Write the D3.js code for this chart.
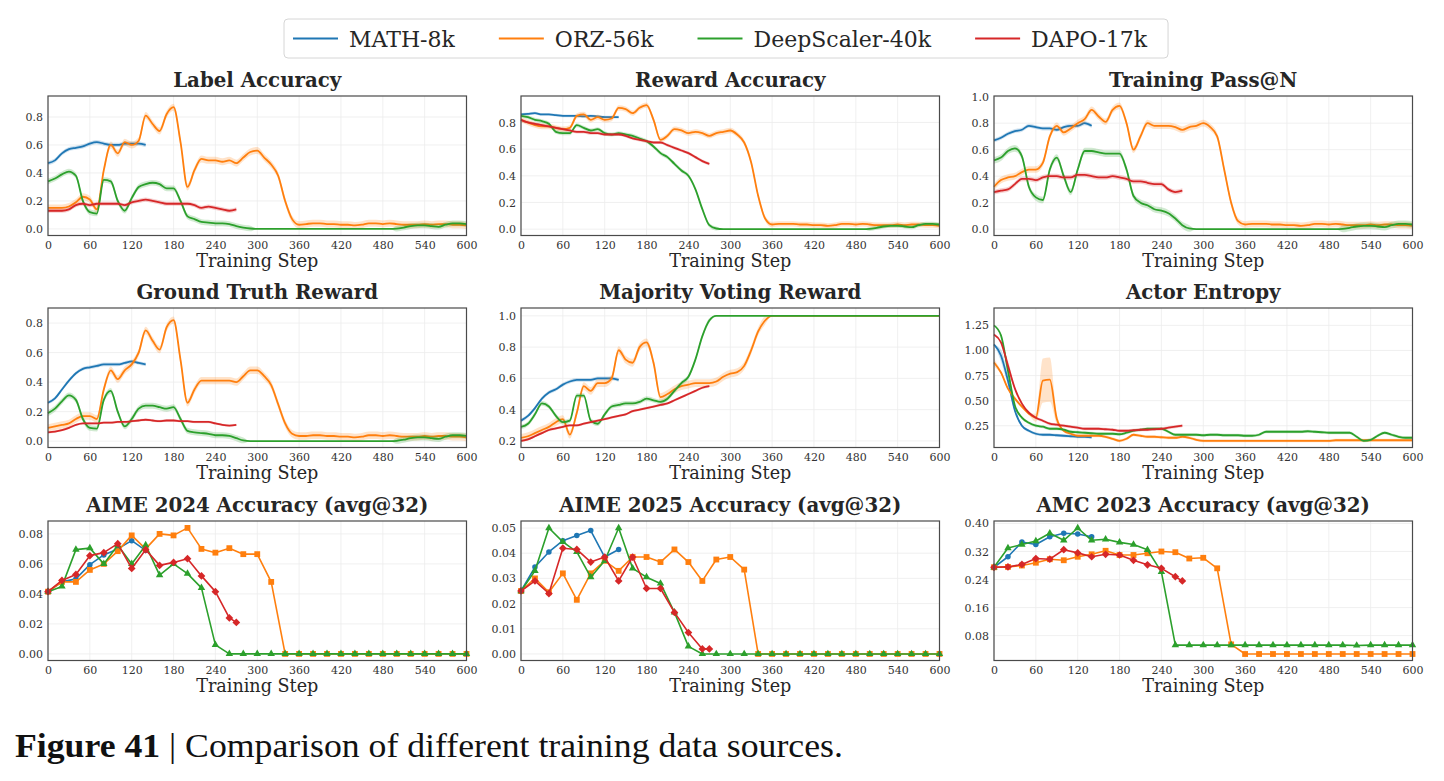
<!DOCTYPE html>
<html>
<head>
<meta charset="utf-8">
<script src="https://cdn.jsdelivr.net/npm/d3@7"></script>
<style>
  body { margin: 0; background: #fff; }
  text { font-family: "DejaVu Serif", serif; }
</style>
</head>
<body>
<div id="chart"></div>
<script>
// ---- data ----
var names = ['MATH-8k', 'ORZ-56k', 'DeepScaler-40k', 'DAPO-17k'];
var colours = ['#1f77b4', '#ff7f0e', '#2ca02c', '#d62728'];

var trainSteps = d3.range(0, 601, 10);
var evalSteps = d3.range(0, 601, 20);
var evalStepsDapo = [0, 20, 40, 60, 80, 100, 120, 140, 160, 180, 200, 220, 240, 260, 270];

// Label Accuracy
var labelAccMath = [0.47,0.49,0.54,0.57,0.58,0.59,0.61,0.62,0.61,0.60,0.60,0.61,0.61,0.61,0.60];
var labelAccOrz = [0.15,0.15,0.15,0.16,0.19,0.23,0.21,0.14,0.42,0.60,
  0.54,0.62,0.60,0.63,0.81,0.75,0.70,0.82,0.87,0.62,
  0.30,0.42,0.50,0.49,0.49,0.48,0.49,0.47,0.51,0.55,
  0.56,0.51,0.46,0.38,0.20,0.07,0.03,0.035,0.04,0.04,
  0.035,0.035,0.03,0.03,0.025,0.03,0.04,0.04,0.035,0.04,
  0.035,0.03,0.03,0.03,0.035,0.03,0.035,0.035,0.03,0.03,
  0.025];
var labelAccDeep = [0.34,0.36,0.39,0.41,0.38,0.20,0.12,0.11,0.35,0.34,
  0.20,0.13,0.22,0.30,0.32,0.33,0.32,0.29,0.29,0.20,
  0.09,0.07,0.05,0.045,0.04,0.04,0.035,0.02,0.01,0.003,
  0,0,0,0,0,0,0,0,0,0,
  0,0,0,0,0,0,0,0,0,0,
  0.002,0.01,0.02,0.025,0.025,0.02,0.015,0.03,0.04,0.04,
  0.035];
var labelAccDapo = [0.13,0.13,0.13,0.14,0.17,0.18,0.17,0.18,0.18,0.18,
  0.18,0.17,0.19,0.20,0.21,0.20,0.19,0.18,0.18,0.18,
  0.18,0.17,0.15,0.16,0.15,0.14,0.13,0.14];

// Reward Accuracy
var rewardAccMath = [0.86,0.865,0.87,0.86,0.86,0.855,0.85,0.85,0.85,0.845,0.85,0.845,0.84,0.84,0.84];
var rewardAccOrz = [0.82,0.80,0.78,0.77,0.77,0.76,0.75,0.76,0.85,0.86,
  0.82,0.84,0.82,0.83,0.91,0.90,0.87,0.91,0.93,0.82,
  0.67,0.70,0.75,0.74,0.72,0.73,0.72,0.70,0.72,0.73,
  0.74,0.71,0.65,0.50,0.25,0.08,0.035,0.04,0.04,0.04,
  0.035,0.035,0.03,0.03,0.025,0.03,0.04,0.04,0.035,0.04,
  0.035,0.03,0.03,0.03,0.035,0.03,0.035,0.035,0.03,0.03,
  0.025];
var rewardAccDeep = [0.85,0.84,0.82,0.81,0.79,0.73,0.72,0.72,0.78,0.76,
  0.74,0.75,0.72,0.71,0.72,0.71,0.70,0.68,0.66,0.62,
  0.57,0.54,0.49,0.44,0.40,0.30,0.15,0.03,0.005,0,
  0,0,0,0,0,0,0,0,0,0,
  0,0,0,0,0,0,0,0,0,0,
  0.002,0.01,0.02,0.025,0.025,0.02,0.015,0.03,0.04,0.04,
  0.035];
var rewardAccDapo = [0.82,0.80,0.79,0.78,0.77,0.76,0.75,0.74,0.73,0.73,
  0.72,0.72,0.71,0.71,0.71,0.70,0.68,0.67,0.66,0.65,
  0.65,0.63,0.61,0.59,0.57,0.54,0.51,0.49];

// Training Pass@N
var passNMath = [0.67,0.69,0.72,0.74,0.75,0.78,0.77,0.76,0.76,0.75,0.77,0.78,0.78,0.80,0.78];
var passNOrz = [0.32,0.37,0.39,0.40,0.43,0.45,0.45,0.50,0.70,0.78,
  0.73,0.76,0.80,0.83,0.90,0.85,0.81,0.90,0.93,0.80,
  0.60,0.70,0.80,0.78,0.78,0.78,0.77,0.75,0.77,0.78,
  0.80,0.77,0.70,0.45,0.20,0.06,0.035,0.04,0.04,0.04,
  0.035,0.035,0.03,0.03,0.025,0.03,0.04,0.04,0.035,0.04,
  0.035,0.03,0.03,0.03,0.035,0.03,0.035,0.035,0.03,0.03,
  0.025];
var passNDeep = [0.52,0.54,0.59,0.61,0.55,0.32,0.24,0.22,0.45,0.54,
  0.40,0.28,0.45,0.59,0.59,0.58,0.57,0.57,0.57,0.45,
  0.25,0.20,0.18,0.15,0.14,0.12,0.08,0.03,0.005,0,
  0,0,0,0,0,0,0,0,0,0,
  0,0,0,0,0,0,0,0,0,0,
  0.002,0.01,0.02,0.025,0.025,0.02,0.015,0.03,0.04,0.04,
  0.035];
var passNDapo = [0.28,0.29,0.30,0.34,0.38,0.38,0.37,0.39,0.40,0.40,
  0.39,0.39,0.41,0.41,0.40,0.39,0.39,0.40,0.39,0.38,
  0.36,0.36,0.35,0.34,0.34,0.30,0.28,0.29];

// Ground Truth Reward
var gtRewardMath = [0.26,0.29,0.35,0.41,0.46,0.49,0.50,0.51,0.52,0.52,0.52,0.53,0.54,0.53,0.52];
var gtRewardOrz = [0.09,0.10,0.11,0.12,0.15,0.17,0.17,0.15,0.35,0.48,
  0.42,0.48,0.52,0.60,0.75,0.68,0.62,0.77,0.82,0.55,
  0.26,0.35,0.41,0.41,0.41,0.41,0.41,0.40,0.44,0.48,
  0.48,0.44,0.38,0.25,0.12,0.05,0.035,0.035,0.04,0.04,
  0.035,0.035,0.03,0.03,0.025,0.03,0.04,0.04,0.035,0.04,
  0.035,0.03,0.03,0.03,0.035,0.03,0.035,0.035,0.03,0.03,
  0.025];
var gtRewardDeep = [0.19,0.22,0.27,0.31,0.28,0.15,0.09,0.085,0.28,0.34,
  0.20,0.10,0.15,0.22,0.24,0.24,0.23,0.22,0.23,0.15,
  0.07,0.06,0.055,0.05,0.04,0.04,0.035,0.02,0.005,0,
  0,0,0,0,0,0,0,0,0,0,
  0,0,0,0,0,0,0,0,0,0,
  0.002,0.01,0.02,0.025,0.025,0.02,0.015,0.03,0.04,0.04,
  0.035];
var gtRewardDapo = [0.06,0.065,0.075,0.09,0.11,0.12,0.12,0.12,0.125,0.125,
  0.13,0.13,0.135,0.14,0.145,0.14,0.135,0.14,0.14,0.135,
  0.135,0.13,0.13,0.13,0.12,0.11,0.105,0.11];

// Majority Voting Reward
var mvRewardMath = [0.33,0.36,0.41,0.47,0.51,0.53,0.56,0.58,0.59,0.59,0.59,0.60,0.60,0.60,0.59];
var mvRewardOrz = [0.22,0.23,0.25,0.27,0.29,0.32,0.34,0.24,0.38,0.55,
  0.52,0.57,0.57,0.60,0.78,0.72,0.70,0.80,0.83,0.70,
  0.48,0.50,0.53,0.55,0.56,0.57,0.57,0.57,0.58,0.61,
  0.63,0.64,0.68,0.78,0.90,0.97,1,1,1,1,
  1,1,1,1,1,1,1,1,1,1,
  1,1,1,1,1,1,1,1,1,1,
  1];
var mvRewardDeep = [0.29,0.31,0.37,0.44,0.42,0.36,0.32,0.33,0.49,0.49,
  0.33,0.31,0.37,0.42,0.43,0.44,0.44,0.45,0.47,0.46,
  0.45,0.47,0.52,0.57,0.61,0.72,0.87,0.97,1,1,
  1,1,1,1,1,1,1,1,1,1,
  1,1,1,1,1,1,1,1,1,1,
  1,1,1,1,1,1,1,1,1,1,
  1];
var mvRewardDapo = [0.20,0.21,0.23,0.25,0.27,0.28,0.29,0.30,0.30,0.31,
  0.32,0.33,0.34,0.35,0.36,0.37,0.39,0.40,0.41,0.42,
  0.43,0.44,0.46,0.48,0.50,0.52,0.54,0.55];

// Actor Entropy
var entropyMath = [1.06,0.95,0.70,0.40,0.25,0.20,0.17,0.16,0.16,0.155,0.15,0.145,0.14,0.14,0.135];
var entropyOrz = [0.88,0.78,0.62,0.52,0.44,0.37,0.33,0.70,0.71,0.32,
  0.20,0.17,0.15,0.15,0.15,0.15,0.14,0.12,0.10,0.12,
  0.16,0.15,0.14,0.14,0.135,0.13,0.13,0.14,0.13,0.11,
  0.10,0.10,0.10,0.10,0.10,0.10,0.10,0.10,0.10,0.10,
  0.10,0.10,0.10,0.10,0.10,0.10,0.10,0.10,0.10,0.105,
  0.105,0.105,0.105,0.105,0.105,0.105,0.105,0.105,0.105,0.105,
  0.105];
var entropyDeep = [1.25,1.15,0.80,0.45,0.33,0.28,0.25,0.24,0.22,0.22,
  0.21,0.19,0.185,0.18,0.175,0.17,0.17,0.17,0.165,0.18,
  0.20,0.21,0.22,0.22,0.22,0.19,0.16,0.16,0.16,0.16,
  0.155,0.16,0.16,0.155,0.155,0.155,0.15,0.15,0.16,0.19,
  0.19,0.19,0.19,0.19,0.19,0.195,0.19,0.185,0.18,0.18,
  0.18,0.18,0.14,0.10,0.11,0.15,0.18,0.16,0.14,0.13,
  0.13];
var entropyDapo = [1.16,1.08,0.85,0.62,0.47,0.38,0.33,0.30,0.27,0.26,
  0.25,0.24,0.23,0.22,0.22,0.22,0.215,0.21,0.20,0.20,
  0.205,0.21,0.21,0.215,0.22,0.23,0.24,0.25];
// wider shaded spread where the runs disagree (step -> half width)
var entropySpread = [
  {0: 0.06, 10: 0.06, 20: 0.05},
  {0: 0.04, 60: 0.04, 70: 0.22, 80: 0.22, 90: 0.05},
  {0: 0.10, 10: 0.09, 20: 0.06},
  {0: 0.04, 10: 0.05, 20: 0.05}
];

// AIME 2024 (avg@32)
var aime24Math = [0.0415,0.048,0.05,0.0595,0.066,0.07,0.0755,0.069];
var aime24Orz = [0.0415,0.048,0.048,0.056,0.06,0.0685,0.079,0.07,0.08,0.079,0.084,0.07,0.0675,0.0705,0.0665,0.0665,0.048,
  0,0,0,0,0,0,0,0,0,0,0,0,0,0];
var aime24Deep = [0.0415,0.045,0.0695,0.0705,0.06,0.0725,0.06,0.0725,0.0525,0.06,0.0535,0.044,0.006,
  0,0,0,0,0,0,0,0,0,0,0,0,0,0,0,0,0,0];
var aime24Dapo = [0.0415,0.049,0.053,0.0655,0.0675,0.0735,0.057,0.0695,0.059,0.061,0.0635,0.052,0.0415,0.024,0.021];

// AIME 2025 (avg@32)
var aime25Math = [0.025,0.0345,0.0405,0.045,0.047,0.049,0.0385,0.0415];
var aime25Orz = [0.025,0.03,0.0245,0.032,0.0215,0.032,0.037,0.033,0.0385,0.0385,0.0365,0.0415,0.0365,0.029,0.0375,0.0385,0.0335,
  0,0,0,0,0,0,0,0,0,0,0,0,0,0];
var aime25Deep = [0.025,0.033,0.05,0.0445,0.0405,0.0305,0.037,0.05,0.034,0.0305,0.028,0.0165,0.003,
  0,0,0,0,0,0,0,0,0,0,0,0,0,0,0,0,0,0];
var aime25Dapo = [0.025,0.029,0.024,0.042,0.0415,0.0365,0.0385,0.029,0.0385,0.026,0.026,0.0165,0.0085,0.002,0.002];

// AMC 2023 (avg@32)
var amc23Math = [0.275,0.305,0.347,0.34,0.362,0.372,0.37,0.362];
var amc23Orz = [0.275,0.276,0.28,0.288,0.298,0.295,0.305,0.312,0.322,0.31,0.31,0.315,0.32,0.318,0.3,0.302,0.272,0.055,
  0.0275,0.0275,0.0275,0.0275,0.0275,0.0275,0.0275,0.0275,0.0275,0.0275,0.0275,0.0275,0.0275];
var amc23Deep = [0.275,0.33,0.34,0.35,0.372,0.352,0.387,0.352,0.355,0.346,0.34,0.325,0.262,0.053,
  0.053,0.053,0.053,0.053,0.053,0.053,0.053,0.053,0.053,0.053,0.053,0.053,0.052,0.053,0.053,0.053,0.053];
var amc23Dapo = [0.275,0.276,0.283,0.3,0.298,0.325,0.316,0.305,0.312,0.31,0.295,0.282,0.272,0.248,0.236];

// ---- layout ----
var W = 1444, H = 781,
    colLeft = [48, 521, 994],
    plotW = 418.5,
    rowTop = [96, 308, 521],
    plotH = 139.5;

var panels = [
  {title: 'Label Accuracy', s: [labelAccMath, labelAccOrz, labelAccDeep, labelAccDapo],
   y: [-0.047, 0.95], ticks: [0, 0.2, 0.4, 0.6, 0.8], fmt: '.1f', band: [0.015, 0.025, 0.02, 0.015]},
  {title: 'Reward Accuracy', s: [rewardAccMath, rewardAccOrz, rewardAccDeep, rewardAccDapo],
   y: [-0.0475, 0.9985], ticks: [0, 0.2, 0.4, 0.6, 0.8], fmt: '.1f', band: [0.01, 0.02, 0.015, 0.012]},
  {title: 'Training Pass@N', s: [passNMath, passNOrz, passNDeep, passNDapo],
   y: [-0.048, 1.005], ticks: [0, 0.2, 0.4, 0.6, 0.8, 1.0], fmt: '.1f', band: [0.015, 0.025, 0.025, 0.018]},
  {title: 'Ground Truth Reward', s: [gtRewardMath, gtRewardOrz, gtRewardDeep, gtRewardDapo],
   y: [-0.043, 0.902], ticks: [0, 0.2, 0.4, 0.6, 0.8], fmt: '.1f', band: [0.012, 0.025, 0.02, 0.008]},
  {title: 'Majority Voting Reward', s: [mvRewardMath, mvRewardOrz, mvRewardDeep, mvRewardDapo],
   y: [0.158, 1.05], ticks: [0.2, 0.4, 0.6, 0.8, 1.0], fmt: '.1f', band: [0.012, 0.025, 0.015, 0.008]},
  {title: 'Actor Entropy', s: [entropyMath, entropyOrz, entropyDeep, entropyDapo],
   y: [0.033, 1.423], ticks: [0.25, 0.5, 0.75, 1.0, 1.25], fmt: '.2f', band: [0.015, 0.015, 0.015, 0.015],
   spread: entropySpread},
  {title: 'AIME 2024 Accuracy (avg@32)', s: [aime24Math, aime24Orz, aime24Deep, aime24Dapo], eval: true,
   y: [-0.0044, 0.0886], ticks: [0, 0.02, 0.04, 0.06, 0.08], fmt: '.2f'},
  {title: 'AIME 2025 Accuracy (avg@32)', s: [aime25Math, aime25Orz, aime25Deep, aime25Dapo], eval: true,
   y: [-0.0026, 0.0528], ticks: [0, 0.01, 0.02, 0.03, 0.04, 0.05], fmt: '.2f'},
  {title: 'AMC 2023 Accuracy (avg@32)', s: [amc23Math, amc23Orz, amc23Deep, amc23Dapo], eval: true,
   y: [0.009, 0.407], ticks: [0.08, 0.16, 0.24, 0.32, 0.40], fmt: '.2f'}
];

var svg = d3.select('#chart').append('svg')
    .attr('width', W)
    .attr('height', H)
    .style('background', '#fff');

var markerShapes = [
  d3.symbol().type(d3.symbolCircle).size(24),
  d3.symbol().type(d3.symbolSquare).size(34),
  d3.symbol().type(d3.symbolTriangle).size(24),
  d3.symbol().type(d3.symbolSquare).size(30)
];

panels.forEach(function(p, k) {
  var left = colLeft[k % 3],
      top = rowTop[Math.floor(k / 3)];

  var x = d3.scaleLinear().domain([0, 600]).range([left, left + plotW]);
  var y = d3.scaleLinear().domain(p.y).range([top + plotH, top]);

  var g = svg.append('g');

  // grid
  g.selectAll('.vgrid').data(d3.range(0, 601, 60)).enter().append('line')
    .attr('x1', function(d) { return x(d); }).attr('x2', function(d) { return x(d); })
    .attr('y1', top).attr('y2', top + plotH)
    .attr('stroke', '#ececec').attr('stroke-width', 0.8);
  g.selectAll('.hgrid').data(p.ticks).enter().append('line')
    .attr('x1', left).attr('x2', left + plotW)
    .attr('y1', function(d) { return y(d); }).attr('y2', function(d) { return y(d); })
    .attr('stroke', '#ececec').attr('stroke-width', 0.8);

  // axes (labels only, matplotlib style without tick marks)
  var xAxis = g.append('g')
    .attr('transform', 'translate(0,' + (top + plotH) + ')')
    .call(d3.axisBottom(x).tickValues(d3.range(0, 601, 60)).tickSize(0).tickPadding(6));
  var yAxis = g.append('g')
    .attr('transform', 'translate(' + left + ',0)')
    .call(d3.axisLeft(y).tickValues(p.ticks).tickFormat(d3.format(p.fmt)).tickSize(0).tickPadding(5));
  [xAxis, yAxis].forEach(function(a) {
    a.select('.domain').remove();
    a.selectAll('text')
      .style('font-family', '"DejaVu Serif", serif')
      .style('font-size', '11px')
      .attr('fill', '#333');
  });

  // series
  p.s.forEach(function(vals, si) {
    var steps;
    if (p.eval) steps = (si === 3) ? evalStepsDapo : evalSteps;
    else steps = trainSteps;
    var pts = vals.map(function(v, i) { return {step: steps[i], v: v}; });
    var col = colours[si];

    if (!p.eval) {
      // no spread once a bounded metric is saturated at 0 or 1
      var hw = function(d) {
        if (d.v <= 0 || d.v >= 1) return 0;
        if (p.spread && p.spread[si][d.step] !== undefined) return p.spread[si][d.step];
        return p.band[si];
      };
      var area = d3.area()
        .x(function(d) { return x(d.step); })
        .y0(function(d) { return y(d.v - hw(d)); })
        .y1(function(d) { return y(d.v + hw(d)); })
        .curve(d3.curveMonotoneX);
      g.append('path').datum(pts)
        .attr('d', area)
        .attr('fill', col)
        .attr('fill-opacity', 0.22);
    }

    var line = d3.line()
      .x(function(d) { return x(d.step); })
      .y(function(d) { return y(d.v); })
      .curve(p.eval ? d3.curveLinear : d3.curveMonotoneX);
    g.append('path').datum(pts)
      .attr('d', line)
      .attr('fill', 'none')
      .attr('stroke', col)
      .attr('stroke-width', p.eval ? 1.6 : 1.8)
      .attr('stroke-linejoin', 'round');

    if (p.eval) {
      g.selectAll('.mk' + si).data(pts).enter().append('path')
        .attr('d', markerShapes[si])
        .attr('transform', function(d) {
          return 'translate(' + x(d.step) + ',' + y(d.v) + ')' + (si === 3 ? ' rotate(45)' : '');
        })
        .attr('fill', col);
    }
  });

  // frame
  g.append('rect')
    .attr('x', left).attr('y', top)
    .attr('width', plotW).attr('height', plotH)
    .attr('fill', 'none')
    .attr('stroke', '#4a4a4a')
    .attr('stroke-width', 1.2);

  // title and x label
  g.append('text')
    .attr('x', left + plotW / 2).attr('y', top - 9.5)
    .attr('text-anchor', 'middle')
    .style('font-size', '19.8px')
    .style('font-weight', 'bold')
    .attr('fill', '#262626')
    .text(p.title);
  g.append('text')
    .attr('x', left + plotW / 2).attr('y', top + plotH + 31)
    .attr('text-anchor', 'middle')
    .style('font-size', '17.6px')
    .attr('fill', '#262626')
    .text('Training Step');
});

// ---- legend ----
var legend = svg.append('g');
var legBox = legend.append('rect')
  .attr('y', 19).attr('height', 39)
  .attr('rx', 4).attr('ry', 4)
  .attr('fill', '#fff')
  .attr('stroke', '#d6d6d6');
var lx = 293;
names.forEach(function(n, i) {
  legend.append('line')
    .attr('x1', lx).attr('x2', lx + 45)
    .attr('y1', 38.5).attr('y2', 38.5)
    .attr('stroke', colours[i]).attr('stroke-width', 2);
  var t = legend.append('text')
    .attr('x', lx + 56).attr('y', 46.5)
    .style('font-size', '22px')
    .attr('fill', '#262626')
    .text(n);
  lx = lx + 56 + t.node().getComputedTextLength() + 44;
});
legBox.attr('x', 284).attr('width', lx - 44 + 21 - 284);

// ---- caption ----
var cap = svg.append('text')
  .attr('y', 757)
  .style('font-family', '"Liberation Serif", serif')
  .style('font-size', '33px')
  .attr('fill', '#111');
cap.append('tspan').style('font-weight', 'bold').text('Figure 41');
cap.append('tspan').text(' | Comparison of different training data sources.');
// the original caption face is wider than Times; stretch horizontally to its width
var capW = cap.node().getBBox().width;
cap.attr('transform', 'translate(15,0) scale(' + (828 / capW) + ',1)');
</script>
</body>
</html>
